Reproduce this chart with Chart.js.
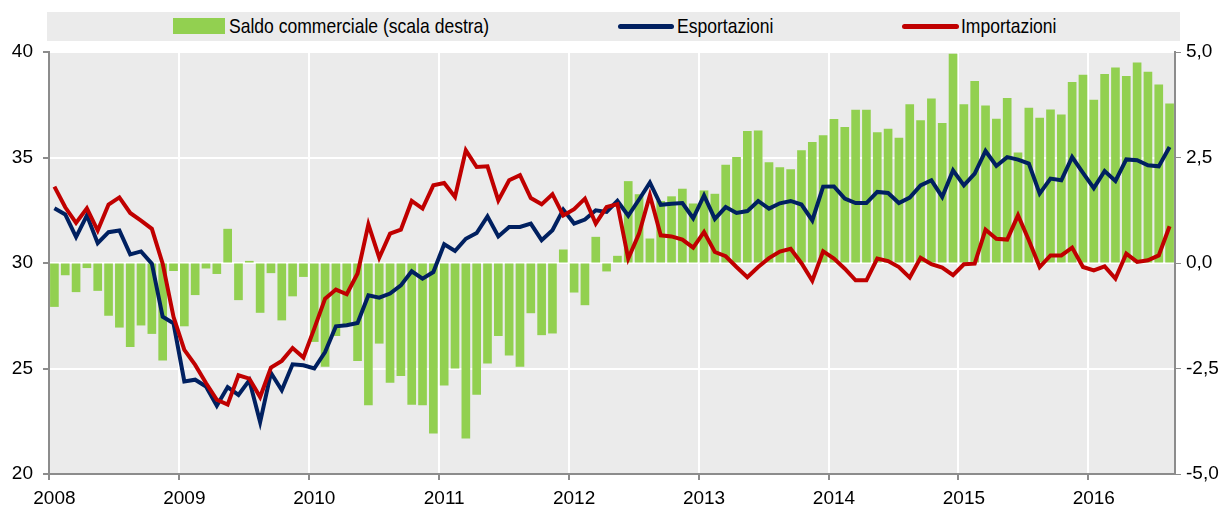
<!DOCTYPE html>
<html>
<head>
<meta charset="utf-8">
<script src="https://cdn.jsdelivr.net/npm/chart.js@4.4.1/dist/chart.umd.min.js"></script>
<style>
  body { margin: 0; background: #fff; }
  #wrap { position: relative; width: 1227px; height: 510px; }
  #chart { position: absolute; left: 0; top: 0; }
  .legend { position: absolute; left: 47px; top: 12px; width: 1133px; height: 29px; background: #ebebeb;
            font-family: 'Liberation Sans', Arial, sans-serif; font-size: 21px; color: #000; }
  .legend span { position: absolute; top: 2px; line-height: 24px; white-space: nowrap;
                 transform: scaleX(0.835); transform-origin: left center; }
  .legend i { position: absolute; display: block; }
</style>
</head>
<body>
<div id="wrap">
  <canvas id="chart" width="1227" height="510"></canvas>
  <div class="legend">
    <i style="left:126px; top:6px; width:52px; height:16px; background:#92d050;"></i>
    <span style="left:182px;">Saldo commerciale (scala destra)</span>
    <i style="left:571px; top:12px; width:56px; height:5px; background:#002060; border-radius:3px;"></i>
    <span style="left:630px;">Esportazioni</span>
    <i style="left:855px; top:12px; width:57px; height:5px; background:#c00000; border-radius:3px;"></i>
    <span style="left:914px;">Importazioni</span>
  </div>
</div>
<script>
const years = ['2008', '2009', '2010', '2011', '2012', '2013', '2014', '2015', '2016'];

// saldo commerciale, scala destra (mesi gen 2008 - ago 2016)
const saldo = [
  -1.04, -0.29, -0.69, -0.12, -0.66, -1.25, -1.53, -1.99, -1.48, -1.68, -2.31, -0.19,
  -1.50, -0.76, -0.13, -0.26, 0.81, -0.88, 0.05, -1.18, -0.24, -1.36, -0.79, -0.33,
  -1.87, -2.46, -1.73, -1.47, -2.32, -3.37, -1.91, -2.84, -2.68, -3.36, -3.37, -4.04,
  -2.90, -2.50, -4.16, -3.12, -2.38, -1.73, -2.19, -2.46, -1.19, -1.71, -1.67, 0.32,
  -0.70, -1.00, 0.62, -0.20, 0.17, 1.94, 1.63, 0.58, 1.47, 1.58, 1.76, 1.41,
  1.72, 1.64, 2.33, 2.51, 3.13, 3.14, 2.39, 2.27, 2.22, 2.67, 2.87, 3.03,
  3.41, 3.22, 3.63, 3.63, 3.10, 3.18, 2.97, 3.76, 3.38, 3.90, 3.32, 4.96,
  3.76, 4.31, 3.73, 3.42, 3.91, 2.62, 3.68, 3.44, 3.64, 3.52, 4.29, 4.46,
  3.87, 4.48, 4.63, 4.43, 4.75, 4.53, 4.23, 3.78
];

const esportazioni = [
  32.59, 32.30, 31.23, 32.26, 30.94, 31.46, 31.54, 30.41, 30.55, 29.97, 27.45, 27.14,
  24.39, 24.47, 24.15, 23.24, 24.12, 23.75, 24.44, 22.46, 24.79, 23.97, 25.20, 25.15,
  25.00, 25.78, 27.00, 27.05, 27.16, 28.47, 28.36, 28.55, 28.94, 29.61, 29.26, 29.57,
  30.89, 30.57, 31.15, 31.42, 32.21, 31.26, 31.71, 31.71, 31.87, 31.08, 31.55, 32.53,
  31.87, 32.06, 32.50, 32.42, 32.95, 32.24, 33.01, 33.81, 32.76, 32.81, 32.84, 32.12,
  33.20, 32.09, 32.65, 32.37, 32.46, 32.94, 32.58, 32.83, 32.94, 32.77, 32.02, 33.62,
  33.63, 33.05, 32.84, 32.84, 33.37, 33.32, 32.84, 33.10, 33.68, 33.92, 33.13, 34.39,
  33.68, 34.24, 35.31, 34.60, 35.02, 34.90, 34.71, 33.29, 34.00, 33.92, 35.02, 34.27,
  33.55, 34.36, 33.89, 34.91, 34.87, 34.63, 34.58, 35.50
];

const importazioni = [
  33.62, 32.64, 31.90, 32.59, 31.54, 32.77, 33.11, 32.37, 32.01, 31.62, 29.97, 27.45,
  25.88, 25.17, 24.31, 23.52, 23.29, 24.68, 24.52, 23.65, 25.04, 25.36, 25.97, 25.52,
  26.89, 28.31, 28.74, 28.52, 29.50, 31.83, 30.25, 31.39, 31.58, 32.94, 32.58, 33.68,
  33.79, 33.13, 35.34, 34.55, 34.58, 32.97, 33.92, 34.16, 33.08, 32.78, 33.26, 32.25,
  32.55, 33.05, 31.87, 32.65, 32.79, 30.21, 31.39, 33.21, 31.31, 31.26, 31.11, 30.73,
  31.47, 30.52, 30.32, 29.81, 29.33, 29.81, 30.23, 30.54, 30.67, 29.99, 29.16, 30.55,
  30.21, 29.73, 29.18, 29.18, 30.21, 30.09, 29.81, 29.31, 30.25, 29.94, 29.78, 29.42,
  29.94, 29.97, 31.58, 31.15, 31.11, 32.26, 31.08, 29.81, 30.36, 30.36, 30.73, 29.81,
  29.65, 29.84, 29.26, 30.44, 30.05, 30.13, 30.36, 31.74
];

const labels = saldo.map((v, i) => years[Math.floor(i / 12)] + '-' + String(i % 12 + 1).padStart(2, '0'));

const AXIS = '#8c8c8c';

Chart.defaults.font.family = "'Liberation Sans', Arial, sans-serif";
Chart.defaults.font.size = 19;
Chart.defaults.color = '#000';

// sfondo grigio dell'area del grafico
const plotBg = {
  id: 'plotBg',
  beforeDraw(chart) {
    const { ctx, chartArea: a } = chart;
    ctx.save();
    ctx.fillStyle = '#ebebeb';
    ctx.fillRect(a.left, a.top, a.right - a.left, a.bottom - a.top);
    ctx.restore();
  }
};

new Chart(document.getElementById('chart'), {
  data: {
    labels: labels,
    datasets: [
      {
        type: 'line',
        label: 'Importazioni',
        data: importazioni,
        yAxisID: 'y',
        borderColor: '#c00000',
        borderWidth: 4,
        pointRadius: 0,
        tension: 0,
        order: 1
      },
      {
        type: 'line',
        label: 'Esportazioni',
        data: esportazioni,
        yAxisID: 'y',
        borderColor: '#002060',
        borderWidth: 4,
        pointRadius: 0,
        tension: 0,
        order: 2
      },
      {
        type: 'bar',
        label: 'Saldo commerciale (scala destra)',
        data: saldo,
        yAxisID: 'y2',
        backgroundColor: '#92d050',
        barPercentage: 0.8,
        categoryPercentage: 1.0,
        order: 3
      }
    ]
  },
  options: {
    responsive: false,
    animation: false,
    devicePixelRatio: 1,
    layout: { padding: { top: 52, left: 0, right: 0, bottom: 0 } },
    plugins: {
      legend: { display: false },
      tooltip: { enabled: false }
    },
    scales: {
      x: {
        type: 'category',
        offset: true,
        grid: {
          offset: true,
          lineWidth: 2,
          color: c => (c.index % 12 === 0 ? '#ffffff' : 'rgba(0,0,0,0)'),
          tickColor: c => (c.index % 12 === 0 ? AXIS : 'rgba(0,0,0,0)'),
          tickLength: 6
        },
        border: { color: AXIS, width: 2 },
        ticks: {
          autoSkip: false,
          maxRotation: 0,
          minRotation: 0,
          padding: 7,
          callback: (v, i) => (i % 12 === 0 ? years[i / 12] : '')
        },
        afterFit: s => { s.height = 36; }
      },
      y: {
        position: 'left',
        min: 20,
        max: 40,
        ticks: { stepSize: 5, padding: 10 },
        grid: { color: '#ffffff', lineWidth: 2, tickColor: AXIS, tickLength: 6 },
        border: { color: AXIS, width: 2 },
        afterFit: s => { s.width = 49; }
      },
      y2: {
        position: 'right',
        min: -5,
        max: 5,
        ticks: {
          stepSize: 2.5,
          padding: 5,
          callback: v => v.toFixed(1).replace('.', ',')
        },
        grid: { drawOnChartArea: false, tickColor: AXIS, tickLength: 6 },
        border: { color: AXIS, width: 2 },
        afterFit: s => { s.width = 52; }
      }
    }
  },
  plugins: [plotBg]
});
</script>
</body>
</html>
